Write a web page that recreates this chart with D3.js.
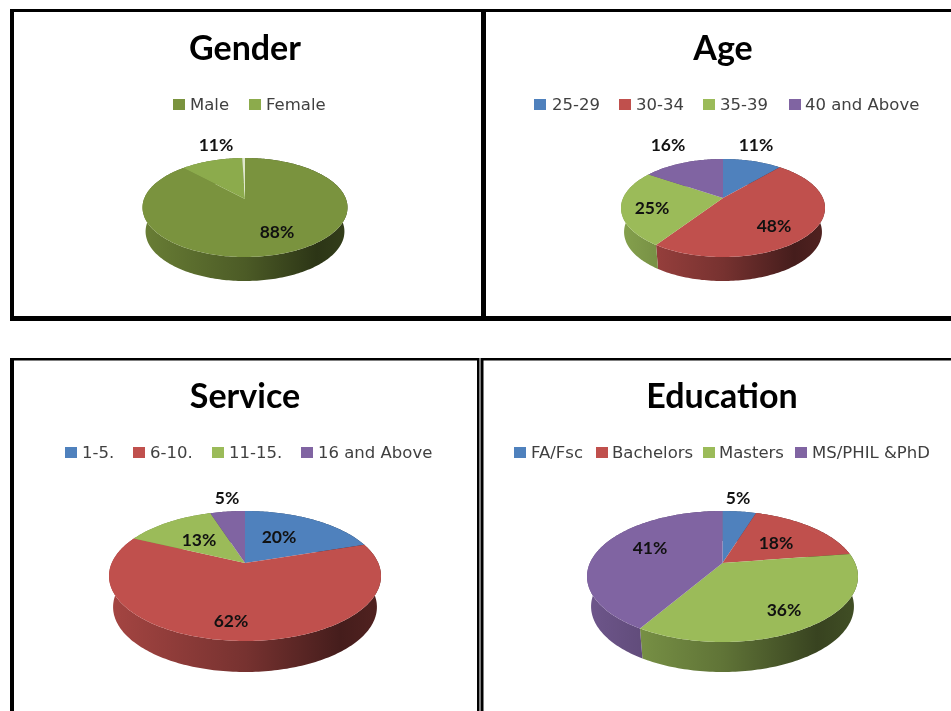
<!DOCTYPE html>
<html>
<head>
<meta charset="utf-8">
<script src="https://cdn.jsdelivr.net/npm/d3@7"></script>
<style>
  html, body { margin: 0; padding: 0; background: #fff; }
  svg { display: block; filter: blur(0.5px); }
  .title { font-family: Lato, sans-serif; font-weight: 700; font-size: 34px; fill: #000; text-anchor: middle; }
  .legend { font-family: "DejaVu Sans", sans-serif; font-size: 16.5px; fill: #404040; }
  .value { font-family: Lato, sans-serif; font-weight: 700; font-size: 17.5px; fill: #111; text-anchor: middle; }
</style>
</head>
<body>
<svg width="951" height="711"></svg>
<script>
// values
const genderCategories = ['Male', 'Female'];
const genderValues = [88, 11.5, 0.5];
const genderLabels = ['88%', '11%'];

const ageCategories = ['25-29', '30-34', '35-39', '40 and Above'];
const ageValues = [11.4, 48, 25, 15.6];
const ageLabels = ['11%', '48%', '25%', '16%'];

const serviceCategories = ['1-5.', '6-10.', '11-15.', '16 and Above'];
const serviceValues = [20, 62, 13, 5];
const serviceLabels = ['20%', '62%', '13%', '5%'];

const educationCategories = ['FA/Fsc', 'Bachelors', 'Masters', 'MS/PHIL &PhD'];
const educationValues = [4.9, 17.7, 35.9, 41.4];
const educationLabels = ['5%', '18%', '36%', '41%'];

const officeColors = ['#4f81bd', '#c0504d', '#9bbb59', '#8064a2'];
const genderColors = ['#7a933e', '#8cab4c', '#dfe8cc'];

// layout of each panel. ay = pie centre on screen, top/bottom = rim, depth = wall height
const panels = [
  { title: 'Gender', cats: genderCategories, vals: genderValues, labels: genderLabels, colors: genderColors,
    tx: 245, ty: 60, cx: 245, ay: 199, rx: 102.5, top: 158, bottom: 257, depth: 24,
    legendY: 110, swatches: [173, 249], texts: [190, 266],
    labelPos: [[277, 238], [216, 151]] },
  { title: 'Age', cats: ageCategories, vals: ageValues, labels: ageLabels, colors: officeColors,
    tx: 723, ty: 60, cx: 723, ay: 198, rx: 102, top: 159, bottom: 257, depth: 24,
    legendY: 110, swatches: [534, 619, 703, 789], texts: [552, 636, 720, 805],
    labelPos: [[756, 151], [774, 232], [652, 214], [668, 151]] },
  { title: 'Service', cats: serviceCategories, vals: serviceValues, labels: serviceLabels, colors: officeColors,
    tx: 245, ty: 408, cx: 245, ay: 563, rx: 136, top: 511, bottom: 641, depth: 31,
    legendY: 458, swatches: [65, 133, 212, 301], texts: [82, 150, 229, 318],
    labelPos: [[279, 543], [231, 627], [199, 546], [227, 504]] },
  { title: 'Education', cats: educationCategories, vals: educationValues, labels: educationLabels, colors: officeColors,
    tx: 722, ty: 408, cx: 722.5, ay: 563, rx: 135.5, top: 511, bottom: 642, depth: 30,
    legendY: 458, swatches: [514, 596, 703, 795], texts: [531, 612, 719, 812],
    labelPos: [[738, 504], [776, 549], [784, 616], [650, 554]] }
];

const svg = d3.select('svg');
const defs = svg.append('defs');

svg.append('rect').attr('width', 951).attr('height', 711).attr('fill', '#fff');

// black frames
const frames = [
  [10, 9, 474, 3], [10, 316, 474, 5], [10, 9, 4, 312], [481, 9, 5, 312],
  [486, 9, 465, 3], [486, 316, 465, 5],
  [10, 358, 469, 2.5], [10, 358, 4, 353], [477, 358, 2.5, 353],
  [481, 358, 470, 2.5], [480.5, 358, 3, 353]
];
svg.selectAll('rect.frame').data(frames).enter().append('rect')
  .attr('class', 'frame')
  .attr('x', d => d[0]).attr('y', d => d[1])
  .attr('width', d => d[2]).attr('height', d => d[3])
  .attr('fill', '#000');

const pie = d3.pie().sort(null).value(d => d);
const line = d3.line();

// wall shading, left to right
const wallStops = [[0, 0.86], [0.5, 0.62], [0.85, 0.36], [1, 0.42]];

panels.forEach((p, pi) => {
  const g = svg.append('g');

  g.append('text').attr('class', 'title').attr('x', p.tx).attr('y', p.ty).text(p.title);

  p.cats.forEach((c, i) => {
    g.append('rect')
      .attr('x', p.swatches[i]).attr('y', p.legendY - 11)
      .attr('width', 12).attr('height', 11)
      .attr('fill', p.colors[i]);
    g.append('text').attr('class', 'legend')
      .attr('x', p.texts[i]).attr('y', p.legendY).text(c);
  });

  // circle seen in perspective: the centre sits above the middle of the ellipse
  const up = p.ay - p.top, down = p.bottom - p.ay;
  const k = (down - up) / (down + up);
  const B = up * (1 + k);
  const A = p.rx * Math.sqrt(1 - k * k);
  const rim = a => {
    const w = 1 + k * Math.cos(a);
    return [p.cx + A * Math.sin(a) / w, p.ay - B * Math.cos(a) / w];
  };
  const lowRim = a => {
    const q = rim(a);
    return [p.cx + (q[0] - p.cx) * 0.97, q[1] + p.depth];
  };

  const arcs = pie(p.vals);
  const sample = d => d3.range(d.startAngle, d.endAngle, 0.02).concat(d.endAngle);

  // gradients for the walls
  p.colors.forEach((col, i) => {
    const grad = defs.append('linearGradient')
      .attr('id', 'wall' + pi + '-' + i)
      .attr('gradientUnits', 'userSpaceOnUse')
      .attr('x1', p.cx - p.rx).attr('x2', p.cx + p.rx)
      .attr('y1', 0).attr('y2', 0);
    const c = d3.rgb(col);
    wallStops.forEach(s => {
      grad.append('stop')
        .attr('offset', s[0])
        .attr('stop-color', d3.rgb(c.r * s[1], c.g * s[1], c.b * s[1]).formatHex());
    });
  });

  // walls first, the top covers whatever is behind
  g.selectAll('path.wall').data(arcs).enter().append('path')
    .attr('class', 'wall')
    .attr('d', d => {
      const as = sample(d);
      return line(as.map(rim).concat(as.slice().reverse().map(lowRim))) + 'Z';
    })
    .attr('fill', (d, i) => 'url(#wall' + pi + '-' + i + ')');

  g.selectAll('path.slice').data(arcs).enter().append('path')
    .attr('class', 'slice')
    .attr('d', d => line([[p.cx, p.ay]].concat(sample(d).map(rim))) + 'Z')
    .attr('fill', (d, i) => p.colors[i]);

  p.labels.forEach((t, i) => {
    g.append('text').attr('class', 'value')
      .attr('x', p.labelPos[i][0]).attr('y', p.labelPos[i][1]).text(t);
  });
});
</script>
</body>
</html>
